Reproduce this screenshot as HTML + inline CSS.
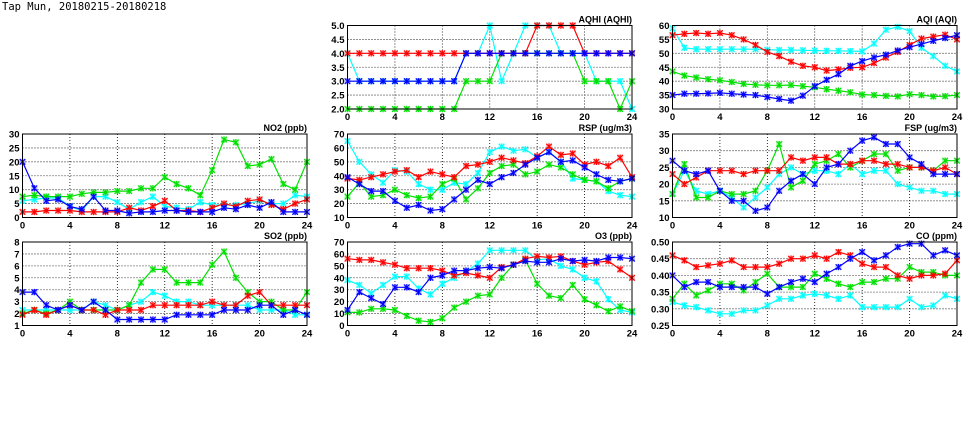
<!DOCTYPE html>
<html><head><meta charset="utf-8"><style>
html,body{margin:0;padding:0;background:#fff;}
svg{display:block;}
text{font-family:"Liberation Sans","DejaVu Sans",sans-serif;font-weight:bold;fill:#000;}
</style></head><body>
<svg id="s" width="975" height="447" viewBox="0 0 975 447" xmlns="http://www.w3.org/2000/svg">
<text x="2" y="10" font-size="10.5" style="font-weight:normal;font-family:'DejaVu Sans Mono',monospace">Tap Mun, 20180215-20180218</text>
</svg>
<script>
var C={g:"#00e000",c:"#00ffff",r:"#ff0000",b:"#0000ff"};
var P=[
{x:22.5,y:134,t:"NO2 (ppb)",min:0,max:30,step:5,dec:0,s:{
c:[6,6.5,7,7,4,2.5,7.5,7.5,5.5,3,5.5,7.5,4,3.5,3,5.5,4.5,4.5,4.5,5,6,5,5,8,7.5],
g:[7.5,8,7.5,7.5,7.5,8.5,9,9,9.5,9.5,10.5,10.5,14.5,12,10.5,8,17,28,27,18.5,19,21,12,10,20],
r:[2,2,2.5,2.5,2.5,2,2,2,2,3.5,2.5,4,6,2.5,2.5,2,3.5,5,4,6,6.5,4.5,3,5,6.5],
b:[20,10.5,6,6.5,4,3,7.5,2.5,2.5,1.5,2,2,2.5,2.5,2,2,2,3.5,3,4.5,3.5,5.5,2,2,2]}},
{x:22.5,y:242,t:"SO2 (ppb)",min:1,max:8,step:1,dec:0,s:{
c:[2.3,2.3,2.3,2.3,2.3,2.3,3,2.7,2.3,2.7,3,3.8,3.5,3,3,2.7,2.7,2.7,2.7,2.7,2.3,2.3,2.3,1.9,1.9],
g:[2,2.3,2,2.3,3,2.3,2.3,2.3,2.3,2.7,4.6,5.7,5.7,4.6,4.6,4.6,6.1,7.2,5,3.8,3,3,2.3,2.3,3.8],
r:[1.9,2.3,1.9,2.3,2.7,2.3,2.3,1.9,2.3,2.3,2.3,2.7,2.7,2.7,2.7,2.7,3,2.7,2.7,3.5,3.8,2.7,2.7,2.7,2.7],
b:[3.8,3.8,2.7,2.3,2.7,2.3,3,2.3,1.5,1.5,1.5,1.5,1.5,1.9,1.9,1.9,1.9,2.3,2.3,2.3,2.7,2.7,1.9,2.3,1.9]}},
{x:347.5,y:25.5,t:"AQHI (AQHI)",min:2,max:5,step:0.5,dec:1,s:{
c:[4,3,3,3,3,3,3,3,3,3,4,4,5,3,4,5,5,5,4,4,4,3,3,3,2],
g:[2,2,2,2,2,2,2,2,2,2,3,3,3,4,4,4,4,4,4,4,3,3,3,2,3],
r:[4,4,4,4,4,4,4,4,4,4,4,4,4,4,4,4,5,5,5,5,4,4,4,4,4],
b:[3,3,3,3,3,3,3,3,3,3,4,4,4,4,4,4,4,4,4,4,4,4,4,4,4]}},
{x:347.5,y:134,t:"RSP (ug/m3)",min:10,max:70,step:10,dec:0,s:{
c:[65,50,41,35,44,43,34,30,30,35,34,42,57,61,58,59,53,57,50,38,37,36,29,26,25],
g:[25,35,25,26,30,26,24,25,34,38,23,31,42,47,48,41,43,48,46,41,37,36,31,36,38],
r:[38,37,39,41,43,44,39,43,41,39,47,48,50,53,51,49,54,61,55,56,48,50,47,53,39],
b:[39,34,29,29,22,17,19,15,16,23,30,37,34,39,42,48,53,57,50,51,46,41,37,36,38]}},
{x:347.5,y:242,t:"O3 (ppb)",min:0,max:70,step:10,dec:0,s:{
c:[38,34,27,34,41,41,31,26,35,40,45,52,63,63,63,63,55,56,50,47,40,37,22,13,11],
g:[11,11,14,14,13,8,4,3,6,15,20,25,26,40,51,55,35,25,23,34,22,17,12,16,12],
r:[56,55,55,53,51,48,48,48,46,42,44,42,40,49,51,56,58,57,58,54,51,53,54,47,40],
b:[13,28,23,18,32,32,28,40,42,46,46,48,49,48,51,54,53,53,56,54,55,54,57,57,56]}},
{x:672.5,y:25.5,t:"AQI (AQI)",min:30,max:60,step:5,dec:0,s:{
c:[59,52,51.5,51.5,51.5,51.5,51.5,51.5,51.3,51.2,51.2,51.1,51,50.9,50.9,50.8,50.7,53.5,58.5,59.5,58,52,49,45.5,43.5],
g:[43.5,42,41.3,40.7,40.3,39.7,39,38.7,38.5,38.5,38.6,38.2,37.8,37.1,36.6,36,35.2,35,34.7,34.5,35.3,35,34.5,34.6,35],
r:[56.5,57,57.3,57,57.3,56.5,55,53,50.5,49,47,45.5,45,43.8,44.2,44.8,45,46.5,48.5,50.5,53,55.3,56,56.7,55],
b:[35,35.5,35.5,35.6,35.8,35.5,35.2,35,34.3,33.6,33,34.8,38.2,40.5,42.5,45.5,47.2,48.5,49.5,51,52.2,53.3,54.5,55.5,56.5]}},
{x:672.5,y:134,t:"FSP (ug/m3)",min:10,max:35,step:5,dec:0,s:{
c:[17,24,18,17,18,16,13,16,19,23,25,23,24,24,23,26,23,24,24,20,19,18,18,17,17],
g:[17,26,16,16,18,17,17,18,24,32,19,21,26,27,29,25,27,29,29,24,25,25,24,27,27],
r:[23,20,22,24,24,24,23,24,24,24,28,27,28,28,26,26,27,27,26,26,25,25,24,25,23],
b:[27,24,23,24,18,15,15,12,13,18,21,23,20,25,26,30,33,34,32,32,28,26,23,23,23]}},
{x:672.5,y:242,t:"CO (ppm)",min:0.25,max:0.5,step:0.05,dec:2,s:{
c:[.32,.31,.305,.295,.285,.285,.295,.295,.31,.33,.33,.34,.345,.34,.33,.34,.305,.305,.305,.305,.33,.305,.31,.34,.33],
g:[.33,.375,.34,.355,.375,.375,.355,.38,.405,.365,.365,.365,.405,.39,.375,.365,.38,.38,.39,.39,.425,.41,.41,.4,.4],
r:[.46,.445,.425,.43,.435,.445,.425,.425,.425,.435,.45,.45,.46,.45,.47,.46,.435,.425,.425,.4,.39,.4,.4,.405,.445],
b:[.40,.365,.38,.38,.365,.365,.365,.365,.345,.365,.38,.39,.38,.405,.425,.45,.47,.445,.46,.485,.495,.495,.46,.475,.46]}}
];
var W=284.5,H=83.5,o="";
P.forEach(function(p){
 var X=function(i){return p.x+i*W/24}, Y=function(v){return p.y+H-(v-p.min)/(p.max-p.min)*H};
 o+='<text x="'+(p.x+W)+'" y="'+(p.y-3)+'" font-size="9" text-anchor="end">'+p.t+'</text>';
 for(var i=4;i<24;i+=4)o+='<line x1="'+X(i)+'" x2="'+X(i)+'" y1="'+p.y+'" y2="'+(p.y+H)+'" stroke="#000" stroke-width="0.8" stroke-dasharray="1,2"/>';
 var n=Math.round((p.max-p.min)/p.step);
 for(var k=0;k<=n;k++){var v=p.min+k*p.step,y=Y(v);
  if(k>0&&k<n)o+='<line x1="'+p.x+'" x2="'+(p.x+W)+'" y1="'+y+'" y2="'+y+'" stroke="#000" stroke-width="0.8" stroke-dasharray="1,2"/>';
  o+='<text x="'+(p.x-3)+'" y="'+(y+3.5)+'" font-size="9.5" text-anchor="end">'+v.toFixed(p.dec)+'</text>';}
 for(var i=0;i<=24;i+=4)o+='<text x="'+X(i)+'" y="'+(p.y+H+11)+'" font-size="9.5" text-anchor="middle">'+i+'</text>';
 ["c","g","r","b"].forEach(function(k){var d=p.s[k],col=C[k],pts=[];
  d.forEach(function(v,i){var y=Math.max(p.y,Math.min(p.y+H,Y(v)));pts.push(X(i).toFixed(1)+","+y.toFixed(1));});
  o+='<polyline points="'+pts.join(" ")+'" fill="none" stroke="'+col+'" stroke-width="1.2"/>';
  d.forEach(function(v,i){var x=X(i),y=Math.max(p.y,Math.min(p.y+H,Y(v)));
   o+='<rect x="'+(x-3)+'" y="'+(y-3)+'" width="6" height="6" fill="'+col+'" opacity="0.3"/>';
   o+='<path d="M'+(x-2.8)+','+(y-2.8)+'L'+(x+2.8)+','+(y+2.8)+'M'+(x-2.8)+','+(y+2.8)+'L'+(x+2.8)+','+(y-2.8)+'M'+x+','+(y-3.2)+'L'+x+','+(y+3.2)+'" stroke="'+col+'" stroke-width="1.1"/>';});
 });
 o+='<rect x="'+p.x+'" y="'+p.y+'" width="'+W+'" height="'+H+'" fill="none" stroke="#000" stroke-width="1"/>';
});
document.getElementById("s").insertAdjacentHTML("beforeend",o);
</script>
</body></html>
